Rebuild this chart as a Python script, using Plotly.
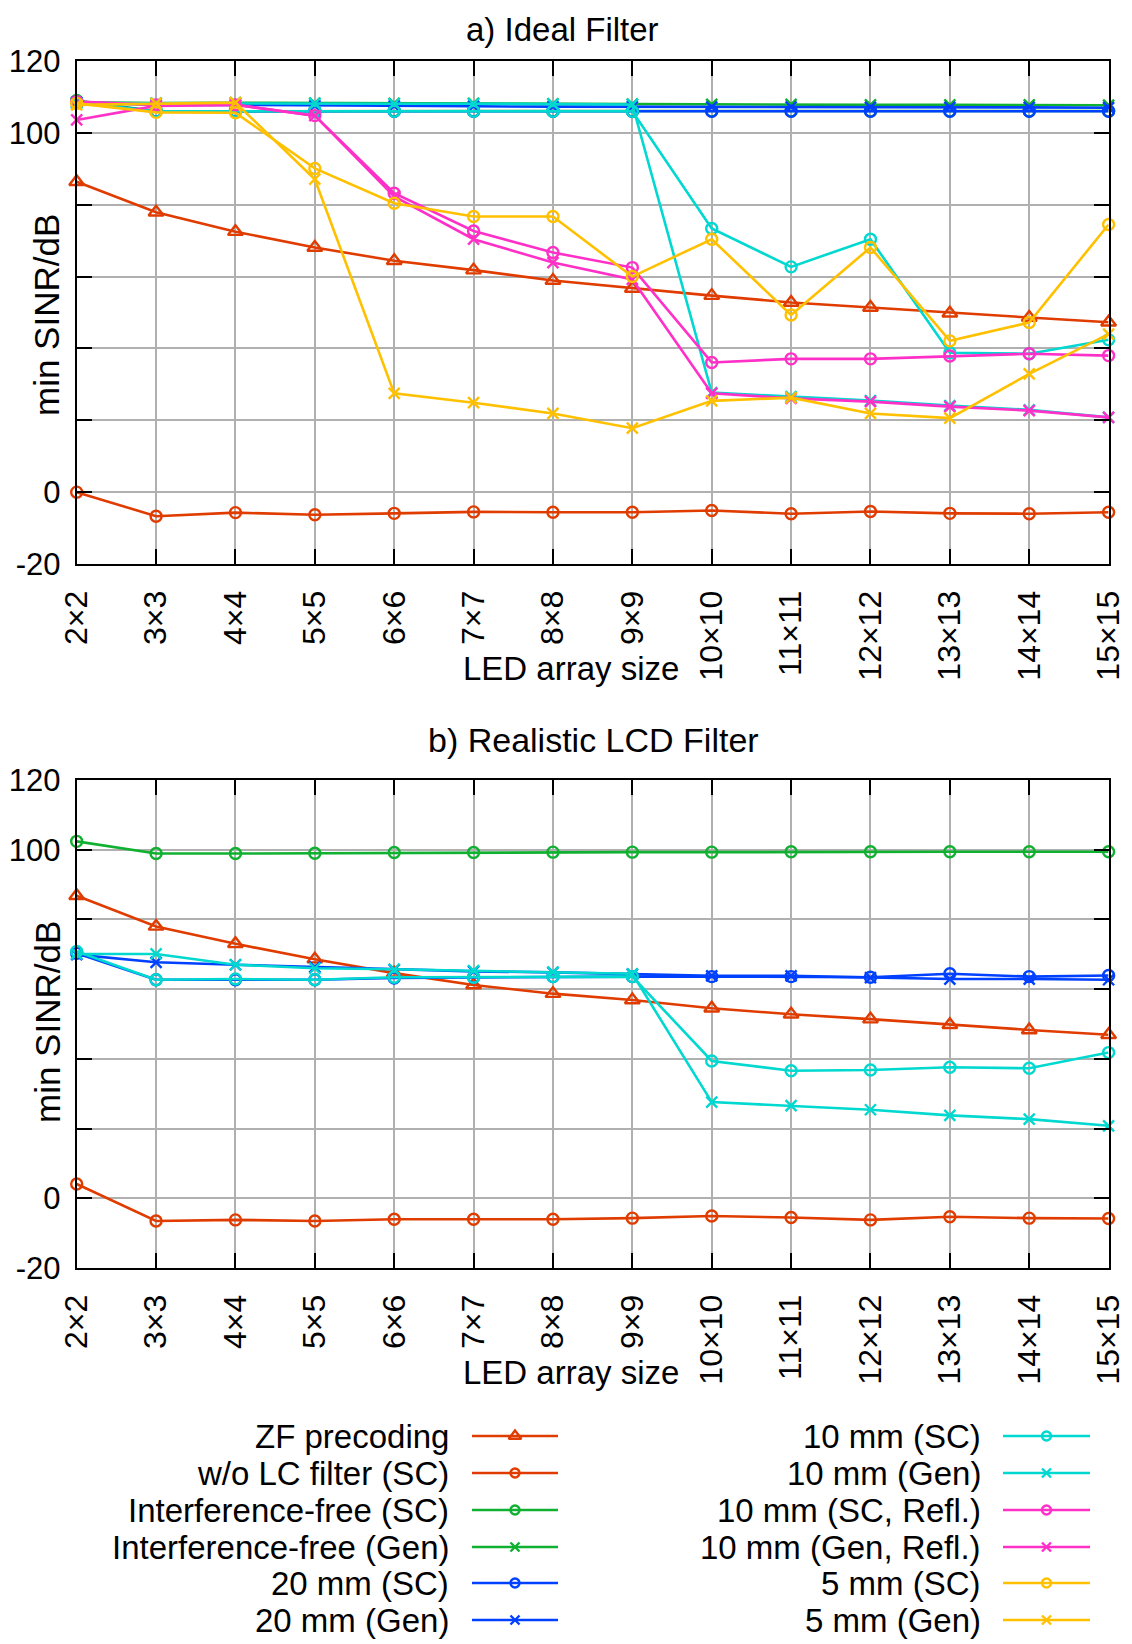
import plotly.graph_objects as go

# ---------------- data ----------------
sizes = [2, 3, 4, 5, 6, 7, 8, 9, 10, 11, 12, 13, 14, 15]
size_labels = ["2×2", "3×3", "4×4", "5×5", "6×6", "7×7", "8×8", "9×9",
               "10×10", "11×11", "12×12", "13×13", "14×14", "15×15"]
y_tickvals = [-20, 0, 20, 40, 60, 80, 100, 120]
y_ticktext = ["-20", "0", "", "", "", "", "100", "120"]

series_names = ["ZF precoding", "w/o LC filter (SC)", "Interference-free (SC)",
                "Interference-free (Gen)", "20 mm (SC)", "20 mm (Gen)",
                "10 mm (SC)", "10 mm (Gen)", "10 mm (SC, Refl.)",
                "10 mm (Gen, Refl.)", "5 mm (SC)", "5 mm (Gen)"]

# a) Ideal filter
a_zf = [86.4, 77.9, 72.5, 68.1, 64.4, 61.8, 58.9, 56.7, 54.7, 52.8, 51.4, 49.8, 48.6, 47.3]
a_wolc = [0.0, -6.7, -5.7, -6.3, -5.9, -5.5, -5.6, -5.6, -5.1, -6.0, -5.4, -5.9, -6.0, -5.6]
a_if_sc = [109.0, 106.0, 106.0, 106.1, 106.1, 106.1, 106.1, 106.1, 106.1, 106.1, 106.1, 106.1, 106.1, 106.1]
a_if_gen = [108.5, 108.3, 108.4, 108.3, 108.2, 108.2, 108.1, 108.0, 107.9, 107.9, 107.8, 107.8, 107.8, 107.7]
a_20_sc = [108.5, 106.0, 106.0, 106.0, 106.0, 106.0, 106.0, 106.0, 106.0, 106.0, 106.0, 106.0, 106.0, 106.0]
a_20_gen = [108.5, 107.8, 107.8, 107.6, 107.5, 107.4, 107.3, 107.3, 107.2, 107.2, 107.1, 107.1, 107.1, 107.0]
a_10_sc = [108.5, 106.0, 106.0, 106.0, 106.0, 106.0, 106.0, 106.0, 73.4, 62.7, 70.4, 38.8, 38.5, 42.4]
a_10_gen = [108.3, 108.2, 108.3, 108.2, 108.1, 108.1, 108.0, 107.9, 27.7, 26.6, 25.5, 24.1, 22.9, 20.8]
a_10_sc_r = [108.7, 107.8, 107.8, 104.8, 83.2, 72.7, 66.7, 62.5, 36.1, 37.1, 37.1, 37.9, 38.5, 38.0]
a_10_gen_r = [103.6, 107.5, 107.8, 104.8, 82.3, 70.4, 63.9, 59.2, 27.5, 26.1, 25.2, 23.8, 22.7, 20.8]
a_5_sc = [108.2, 105.7, 105.6, 90.1, 80.4, 76.7, 76.7, 60.0, 70.4, 49.3, 68.1, 42.1, 47.2, 74.5]
a_5_gen = [107.8, 108.2, 108.4, 87.1, 27.5, 24.9, 21.9, 17.8, 25.4, 26.3, 21.9, 20.6, 32.9, 44.0]

# b) Realistic LCD filter
b_zf = [86.8, 78.0, 73.0, 68.6, 64.6, 61.2, 58.7, 56.9, 54.5, 52.8, 51.4, 49.8, 48.3, 46.9]
b_wolc = [4.1, -6.5, -6.2, -6.5, -6.0, -6.0, -6.0, -5.7, -5.1, -5.5, -6.2, -5.3, -5.7, -5.8]
b_if_sc = [102.4, 98.9, 98.9, 99.0, 99.2, 99.2, 99.3, 99.3, 99.3, 99.4, 99.4, 99.4, 99.4, 99.4]
b_20_sc = [70.3, 62.7, 62.7, 62.7, 63.2, 63.4, 63.6, 63.6, 63.6, 63.6, 63.4, 64.4, 63.6, 63.9]
b_20_gen = [69.9, 67.7, 67.0, 66.3, 65.6, 65.1, 64.8, 64.3, 63.8, 63.8, 63.3, 62.9, 62.9, 62.7]
b_10_sc = [70.8, 62.7, 62.9, 62.7, 63.4, 63.4, 63.6, 63.6, 39.4, 36.6, 36.8, 37.6, 37.3, 41.8]
b_10_gen = [70.1, 70.1, 67.0, 66.0, 65.7, 65.3, 64.9, 64.4, 27.6, 26.6, 25.4, 23.8, 22.7, 20.8]

# ---------------- styles ----------------
RED, GREEN, BLUE = "#e03c00", "#10b030", "#0040ff"
CYAN, PINK, YELLOW = "#00d8d0", "#ff30c8", "#ffc000"
colors = [RED, RED, GREEN, GREEN, BLUE, BLUE, CYAN, CYAN, PINK, PINK, YELLOW, YELLOW]
symbols = ["triangle-up-open", "circle-open", "circle-open", "x-thin-open",
           "circle-open", "x-thin-open", "circle-open", "x-thin-open",
           "circle-open", "x-thin-open", "circle-open", "x-thin-open"]

a_data = [a_zf, a_wolc, a_if_sc, a_if_gen, a_20_sc, a_20_gen, a_10_sc, a_10_gen,
          a_10_sc_r, a_10_gen_r, a_5_sc, a_5_gen]
b_data = [b_zf, b_wolc, b_if_sc, None, b_20_sc, b_20_gen, b_10_sc, b_10_gen,
          None, None, None, None]

FONT = "Liberation Sans"
OFF = 8                      # browser body margin
W, H = 1132 - OFF, 1644 - OFF


def fx(px):   # page pixel -> paper x
    return (px - OFF) / W


def fy(py):   # page pixel -> paper y
    return 1 - (py - OFF) / H


fig = go.Figure()


def msize(sym):
    return 13 if sym.startswith("triangle") else 11


for data, xa, ya in [(a_data, "x", "y"), (b_data, "x2", "y2")]:
    for i, ys in enumerate(data):
        if ys is None:
            continue
        fig.add_trace(go.Scatter(
            x=sizes, y=ys, xaxis=xa, yaxis=ya, mode="lines+markers",
            line=dict(color=colors[i], width=2.6),
            marker=dict(symbol=symbols[i], size=msize(symbols[i]), color=colors[i],
                        line=dict(color=colors[i], width=2.4)),
            cliponaxis=False, showlegend=False, hoverinfo="skip"))

# ---------------- legend (drawn in a hidden pixel-space axis) ----------------
rows = [1436, 1473, 1510, 1547, 1583, 1620]
col_text_right = [451, 983]
col_line = [(472, 558), (1003, 1090)]
annotations = []
for i, name in enumerate(series_names):
    c = i // 6
    r = i % 6
    x0, x1 = col_line[c]
    yy = rows[r]
    fig.add_trace(go.Scatter(
        x=[x0, (x0 + x1) / 2, x1], y=[yy, yy, yy], xaxis="x3", yaxis="y3",
        mode="lines+markers", line=dict(color=colors[i], width=2.6),
        marker=dict(symbol=symbols[i], size=msize(symbols[i]) - 2, color=colors[i],
                    opacity=[0, 1, 0], line=dict(color=colors[i], width=2.4)),
        cliponaxis=False, showlegend=False, hoverinfo="skip"))
    annotations.append(dict(
        x=fx(col_text_right[c]), y=fy(yy), xref="paper", yref="paper",
        text=name, showarrow=False, xanchor="right", yanchor="middle",
        font=dict(family=FONT, size=33, color="black")))


# titles and axis titles
def ann(text, x, y, angle=0, size=33, yanchor="middle"):
    annotations.append(dict(x=fx(x), y=fy(y), xref="paper", yref="paper",
                            text=text, showarrow=False, xanchor="center",
                            yanchor=yanchor, textangle=angle,
                            font=dict(family=FONT, size=size, color="black")))


ann("a) Ideal Filter", 562, OFF + 0.5, size=33, yanchor="top")
ann("b) Realistic LCD Filter", 593, 740, size=34)
ann("LED array size", 571, 668)
ann("LED array size", 571, 1372)
ann("min SINR/dB", 47, 315, angle=-90, size=35)
ann("min SINR/dB", 47, 1022, angle=-90, size=35)

x_dom = [fx(76.7), fx(1108.6)]
axis_common = dict(showline=True, linecolor="black", linewidth=2, mirror="ticks",
                   ticks="inside", ticklen=15, tickwidth=1.5, tickcolor="black",
                   showgrid=True, gridcolor="#b0b0b0", gridwidth=1.5,
                   zeroline=False, automargin=False)

xaxis_common = dict(axis_common, tickvals=sizes, ticktext=size_labels, tickangle=-90,
                    range=[2, 15], domain=x_dom, ticklabelstandoff=12,
                    tickfont=dict(family=FONT, size=32, color="black"))
yaxis_common = dict(axis_common, tickvals=y_tickvals, ticktext=y_ticktext,
                    range=[-20, 120], ticklabelstandoff=8,
                    tickfont=dict(family=FONT, size=31, color="black"))

fig.update_layout(
    width=W, height=H, margin=dict(l=0, r=0, t=0, b=0, autoexpand=False),
    paper_bgcolor="white", plot_bgcolor="rgba(0,0,0,0)",
    xaxis=dict(xaxis_common, anchor="y"),
    yaxis=dict(yaxis_common, anchor="x", domain=[fy(564), fy(61)]),
    xaxis2=dict(xaxis_common, anchor="y2"),
    yaxis2=dict(yaxis_common, anchor="x2", domain=[fy(1268), fy(780)]),
    xaxis3=dict(domain=[0, 1], range=[OFF, W + OFF], visible=False, anchor="y3",
                automargin=False),
    yaxis3=dict(domain=[0, 1], range=[H + OFF, OFF], visible=False, anchor="x3",
                automargin=False),
    annotations=annotations,
    showlegend=False,
)

fig.write_html("out.html")
